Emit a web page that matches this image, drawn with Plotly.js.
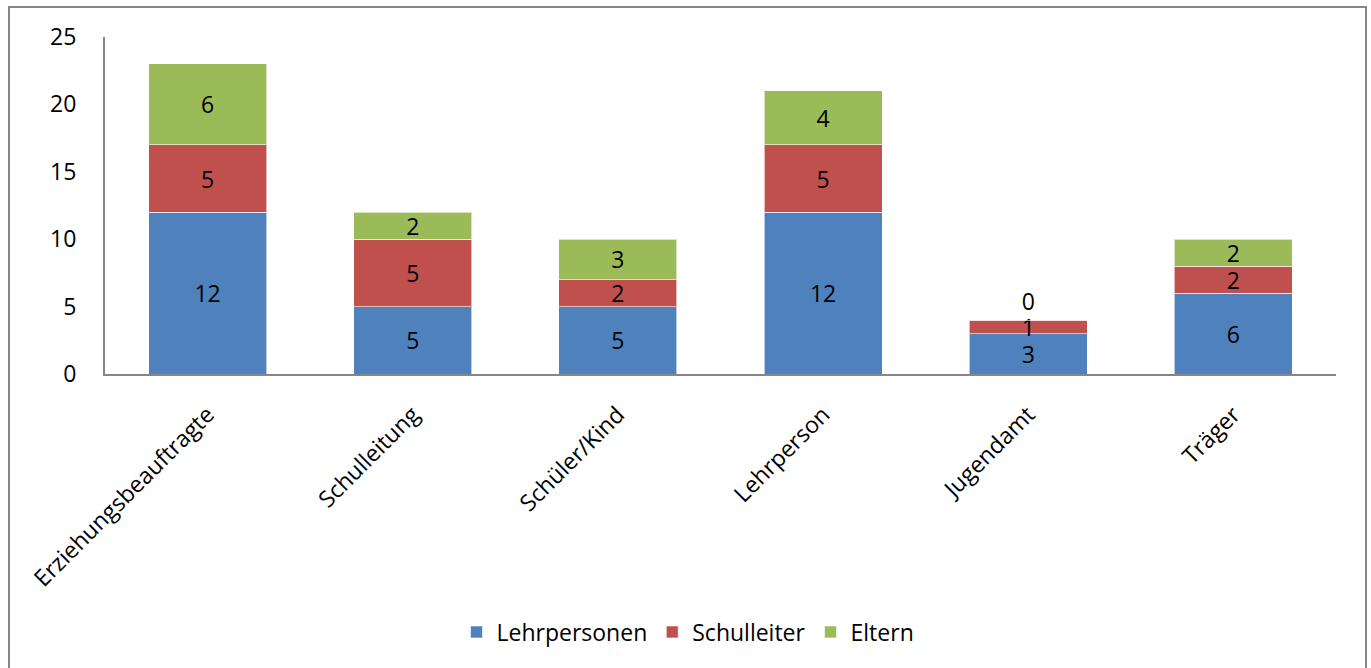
<!DOCTYPE html>
<html>
<head>
<meta charset="utf-8">
<script src="https://cdn.plot.ly/plotly-3.0.1.min.js"></script>
<style>
html,body{margin:0;padding:0;background:#fff;}
#chart{width:1371px;height:668px;}
</style>
</head>
<body>
<div id="chart"></div>
<script>
const categories = ["Erziehungsbeauftragte", "Schulleitung", "Schüler/Kind", "Lehrperson", "Jugendamt", "Träger"];
const lehrpersonen = [12, 5, 5, 12, 3, 6];
const schulleiter = [5, 5, 2, 5, 1, 2];
const eltern = [6, 2, 3, 4, 0, 2];
const seriesNames = ["Lehrpersonen", "Schulleiter", "Eltern"];
const yTicks = [0, 5, 10, 15, 20, 25];

const colors = ["#4F81BD", "#C0504D", "#9BBB59"];
const FONT = "Open Sans, Lato, sans-serif";
const FS = 23;

function mk(vals, i) {
  return {
    type: "bar",
    name: seriesNames[i],
    x: categories,
    y: vals,
    text: vals.map(String),
    textposition: vals.map(v => v === 0 ? "outside" : "inside"),
    insidetextanchor: "middle",
    textangle: 0,
    cliponaxis: false,
    textfont: {family: FONT, size: FS, color: "#000"},
    outsidetextfont: {family: FONT, size: FS, color: "#000"},
    marker: {color: colors[i], line: {color: "rgba(255,255,255,0.6)", width: 1}},
    hoverinfo: "x+y+name"
  };
}

const data = [mk(lehrpersonen, 0), mk(schulleiter, 1), mk(eltern, 2)];

const L = 105, R = 35, T = 37, B = 294;
const W = 1371 - L - R, H = 668 - T - B;
const px = x => (x - L) / W;
const py = y => (668 - B - y) / H;

const layout = {
  width: 1371, height: 668,
  margin: {l: L, r: R, t: T, b: B, pad: 0},
  paper_bgcolor: "#fff", plot_bgcolor: "#fff",
  barmode: "stack",
  bargap: 0.425,
  uniformtext: {mode: "show", minsize: FS},
  font: {family: FONT, size: FS, color: "#000"},
  xaxis: {
    type: "category",
    showline: true, linecolor: "#868686", linewidth: 2,
    showgrid: false, ticks: "",
    tickangle: -45,
    tickfont: {family: FONT, size: FS, color: "#000"},
    ticklabelstandoff: 16,
    zeroline: false
  },
  yaxis: {
    range: [0, 25],
    tickvals: yTicks,
    ticktext: yTicks.map(String),
    showline: true, linecolor: "#868686", linewidth: 2,
    showgrid: false, zeroline: false, ticks: "",
    ticklabelstandoff: 22,
    tickfont: {family: FONT, size: FS, color: "#000"}
  },
  showlegend: true,
  legend: {
    orientation: "h",
    x: px(688), xanchor: "center",
    y: py(632), yanchor: "middle",
    font: {family: FONT, size: FS, color: "#000"},
    itemwidth: 30,
    tracegroupgap: 0,
    traceorder: "normal"
  },
  shapes: [{
    type: "rect", xref: "paper", yref: "paper",
    x0: px(9), x1: px(1366), y0: py(720), y1: py(7),
    line: {color: "#868686", width: 2}, fillcolor: "rgba(0,0,0,0)", layer: "above"
  }]
};

Plotly.newPlot("chart", data, layout, {displayModeBar: false, staticPlot: true});
</script>
</body>
</html>
